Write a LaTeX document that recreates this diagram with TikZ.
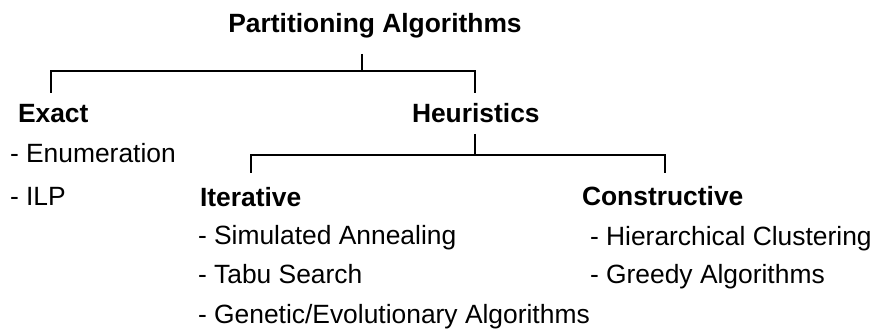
\documentclass[tikz,border=0pt]{standalone}
\usepackage{fontspec}
\setmainfont{Liberation Sans}
\begin{document}
\begin{tikzpicture}[x=1pt,y=-1pt,
  every node/.style={inner sep=0pt, outer sep=0pt, font=\fontsize{26.4}{30}\selectfont},
  head/.style={anchor=base west, font=\fontsize{26.4}{30}\selectfont\bfseries},
  item/.style={anchor=base west},
  tree/.style={line width=2pt, line cap=butt, line join=miter}]
\useasboundingbox (0,0) rectangle (877,331);

% root
\node[head, anchor=base] (pa) at (375,33) {Partitioning Algorithms};

% first level
\node[head] (exact) at (18,123) {Exact};
\node[head] (heur) at (412,123) {Heuristics};
\node[item] (enum) at (10,163) {- Enumeration};
\node[item] (ilp) at (10,205) {- ILP};

% second level
\node[head] (iter) at (200,206) {Iterative};
\node[head] (cons) at (582,205) {Constructive};
\node[item] (sa) at (198,244) {- Simulated Annealing};
\node[item] (tabu) at (198,283) {- Tabu Search};
\node[item] (gen) at (198,323) {- Genetic/Evolutionary Algorithms};
\node[item] (hc) at (590,245) {- Hierarchical Clustering};
\node[item] (greedy) at (590,283) {- Greedy Algorithms};

% bracket under the root
\coordinate (pa-stub) at (362,54);
\coordinate (pa-join) at (362,71);
\coordinate (exact-top) at (51,93);
\coordinate (heur-top) at (475,93);
\draw[tree] (pa-stub) -- (pa-join);
\draw[tree] (exact-top) |- (pa-join) -| (heur-top);

% bracket under Heuristics
\coordinate (heur-stub) at (475,134);
\coordinate (heur-join) at (475,155);
\coordinate (iter-top) at (251,173);
\coordinate (cons-top) at (665,173);
\draw[tree] (heur-stub) -- (heur-join);
\draw[tree] (iter-top) |- (heur-join) -| (cons-top);
\end{tikzpicture}
\end{document}
